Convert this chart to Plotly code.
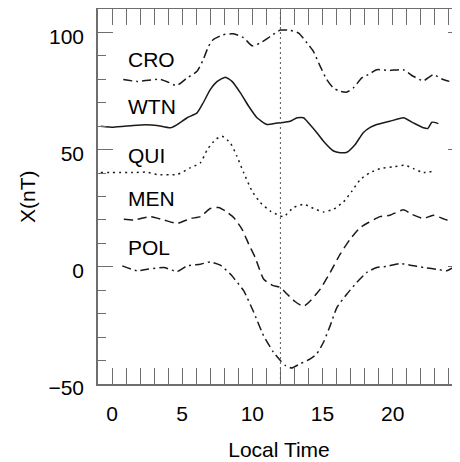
import plotly.graph_objects as go

# ---- data ----
CRO_t = [0.8, 1.8, 2.6, 3.4, 4.0, 4.6, 5.35, 6.06, 6.5, 6.87, 7.2, 7.9, 8.65, 9.37, 9.98, 10.57, 11.28, 12.0, 12.7, 13.3, 13.9, 14.35, 14.84, 15.3, 15.77, 16.2, 16.7, 17.2, 17.8, 18.26, 18.87, 19.8, 20.75, 21.46, 22.2, 22.9, 23.6, 24.3]
CRO = [79.9, 79.1, 79.6, 80.0, 78.8, 77.3, 80.6, 83.4, 88.4, 94.0, 96.9, 99.0, 99.4, 97.8, 94.3, 95.5, 98.3, 101.0, 100.9, 99.7, 95.5, 91.9, 85.5, 79.9, 76.3, 75.0, 74.5, 76.3, 80.6, 82.0, 84.1, 83.8, 84.1, 81.3, 79.4, 82.0, 79.9, 78.7]

WTN_t = [-0.8, 0.1, 1.5, 2.4, 3.2, 4.16, 4.64, 5.35, 6.06, 6.5, 7.0, 7.5, 8.08, 8.55, 9.15, 9.74, 10.33, 11.05, 11.75, 12.2, 12.7, 13.2, 13.65, 14.1, 14.6, 15.07, 15.79, 16.26, 16.74, 17.33, 17.9, 18.4, 18.87, 19.8, 20.77, 21.48, 22.2, 22.5, 22.8, 23.26]
WTN = [60.0, 59.6, 60.3, 60.6, 60.3, 59.3, 60.7, 63.6, 65.7, 70.0, 75.6, 79.1, 80.9, 79.1, 74.2, 68.5, 63.6, 60.7, 61.4, 61.6, 62.1, 63.6, 63.6, 60.7, 57.2, 53.6, 49.4, 48.7, 48.9, 52.2, 57.2, 59.5, 60.7, 62.1, 63.6, 61.4, 59.3, 59.0, 61.7, 61.1]

QUI_t = [-0.8, 1.5, 2.5, 3.2, 4.64, 5.6, 6.3, 6.8, 7.37, 7.84, 8.43, 8.9, 9.38, 9.98, 10.57, 11.28, 11.87, 12.23, 12.94, 13.65, 14.36, 15.07, 15.79, 16.5, 17.1, 17.7, 18.4, 19.1, 20.06, 20.9, 21.48, 22.2, 23.0]
QUI = [40.2, 40.2, 40.4, 39.4, 39.4, 42.3, 44.4, 50.1, 54.3, 55.7, 52.9, 47.2, 40.2, 32.3, 27.4, 23.8, 22.0, 21.4, 25.3, 26.7, 24.9, 23.4, 24.6, 27.7, 32.3, 37.3, 40.2, 41.9, 42.7, 43.3, 41.9, 40.2, 40.9]

MEN_t = [0.84, 1.55, 2.74, 3.69, 4.64, 5.59, 6.3, 7.0, 7.6, 8.08, 8.67, 9.27, 9.74, 10.2, 10.8, 11.4, 12.0, 12.47, 13.06, 13.65, 14.13, 14.84, 15.55, 16.26, 16.97, 17.7, 18.28, 19.1, 19.8, 20.77, 21.37, 22.2, 22.9, 23.86, 24.33]
MEN = [20.3, 20.0, 21.4, 20.0, 18.5, 20.6, 21.4, 24.9, 25.3, 23.8, 21.0, 16.0, 9.7, 4.0, -5.2, -7.8, -8.8, -11.6, -14.9, -16.9, -14.5, -9.5, -2.4, 5.4, 11.8, 16.8, 18.9, 21.4, 22.0, 24.3, 22.4, 20.6, 22.0, 20.0, 20.3]

POL_t = [0.73, 1.8, 2.5, 3.69, 4.64, 5.35, 6.3, 7.0, 7.72, 8.43, 9.38, 10.1, 10.8, 11.5, 12.0, 12.35, 12.8, 13.4, 14.13, 14.6, 15.07, 15.55, 16.03, 16.74, 17.45, 18.16, 18.87, 19.6, 20.5, 21.25, 22.2, 23.1, 23.86, 24.33, 24.8]
POL = [0.4, -1.7, -1.0, -0.3, -2.0, 0.4, 1.1, 2.1, 0.7, -3.1, -10.2, -19.4, -29.4, -36.4, -40.0, -42.1, -43.2, -41.4, -39.3, -37.1, -32.2, -25.1, -17.3, -11.6, -6.6, -2.4, -0.3, 0.2, 1.4, 0.7, -0.3, -1.0, -1.7, -0.3, -0.3]

STATIONS = ["CRO", "WTN", "QUI", "MEN", "POL"]
LABEL_Y = [88.4, 68.4, 47.5, 29.2, 8.4]
LABEL_X = 1.0
NOON = 12
X_RANGE = [-1, 24.8]
Y_RANGE = [-50, 110]
X_TITLE = "Local Time"
Y_TITLE = "X(nT)"

# ---- styles ----
LINE_COLOR = "#1a1a1a"
AXIS_COLOR = "#6e6e6e"
TEXT_COLOR = "#000000"
FONT = "Liberation Sans, Arial, Helvetica, sans-serif"
dashes = {
    "CRO": "9px,4px,2px,4px",
    "WTN": "solid",
    "QUI": "2px,4px",
    "MEN": "9px,5px",
    "POL": "9px,4px,2px,4px",
}
series = {
    "CRO": (CRO_t, CRO),
    "WTN": (WTN_t, WTN),
    "QUI": (QUI_t, QUI),
    "MEN": (MEN_t, MEN),
    "POL": (POL_t, POL),
}
# WTN is drawn on the right-hand twin axis (identical range) so that axis renders its ticks
axis_of = {"CRO": "y", "WTN": "y2", "QUI": "y", "MEN": "y", "POL": "y"}

fig = go.Figure()
for name in STATIONS:
    t, v = series[name]
    fig.add_trace(go.Scatter(
        x=t, y=v, mode="lines", name=name, showlegend=False, yaxis=axis_of[name],
        line=dict(color=LINE_COLOR, width=1.5, dash=dashes[name],
                  shape="spline", smoothing=0.5),
    ))

fig.add_vline(x=NOON, line=dict(color="#555555", width=1, dash="2px,3px"))

for name, ly in zip(STATIONS, LABEL_Y):
    fig.add_annotation(x=LABEL_X, y=ly, text=name, showarrow=False,
                       xanchor="left", yanchor="middle",
                       font=dict(family=FONT, size=21, color=TEXT_COLOR))

# y-axis title placed as a rotated annotation for exact positioning
fig.add_annotation(x=-0.195, y=0.5, xref="paper", yref="paper", text=Y_TITLE,
                   textangle=-90, showarrow=False, xanchor="center", yanchor="middle",
                   font=dict(family=FONT, size=21, color=TEXT_COLOR))

tick_style = dict(tickwidth=1.2, tickcolor=AXIS_COLOR)

# the page body adds an 8px margin, so the figure is sized to end at the window edge
fig.update_layout(
    width=452, height=454,
    margin=dict(l=90, r=0, t=1, b=78, autoexpand=False),
    paper_bgcolor="white", plot_bgcolor="white",
    font=dict(family=FONT, size=21, color=TEXT_COLOR),
    xaxis=dict(
        range=X_RANGE, tickmode="linear", tick0=0, dtick=5,
        ticks="inside", ticklen=16, **tick_style,
        minor=dict(tickmode="linear", tick0=0, dtick=1, ticks="inside", ticklen=8,
                   showgrid=False, **tick_style),
        showline=True, linecolor=AXIS_COLOR, linewidth=1.5, mirror="allticks",
        showgrid=False, zeroline=False, automargin=False, ticklabelstandoff=10,
        title=dict(text=X_TITLE, standoff=18,
                   font=dict(family=FONT, size=21, color=TEXT_COLOR)),
        tickfont=dict(family=FONT, size=21, color=TEXT_COLOR),
    ),
    yaxis=dict(
        range=Y_RANGE, tickmode="linear", tick0=0, dtick=50,
        ticks="inside", ticklen=15, **tick_style,
        minor=dict(tickmode="linear", tick0=0, dtick=10, ticks="inside", ticklen=8,
                   showgrid=False, **tick_style),
        showline=True, linecolor=AXIS_COLOR, linewidth=1.5,
        showgrid=False, zeroline=False, automargin=False, ticklabelstandoff=8,
        ticklabelshift=4,
        tickfont=dict(family=FONT, size=21, color=TEXT_COLOR),
    ),
    yaxis2=dict(
        range=Y_RANGE, overlaying="y", side="right", anchor="x",
        tickmode="linear", tick0=0, dtick=50,
        ticks="inside", ticklen=12, showticklabels=False, **tick_style,
        minor=dict(tickmode="linear", tick0=0, dtick=10, ticks="inside", ticklen=5,
                   showgrid=False, **tick_style),
        showline=False, showgrid=False, zeroline=False, automargin=False,
    ),
)

fig.write_html("out.html")
